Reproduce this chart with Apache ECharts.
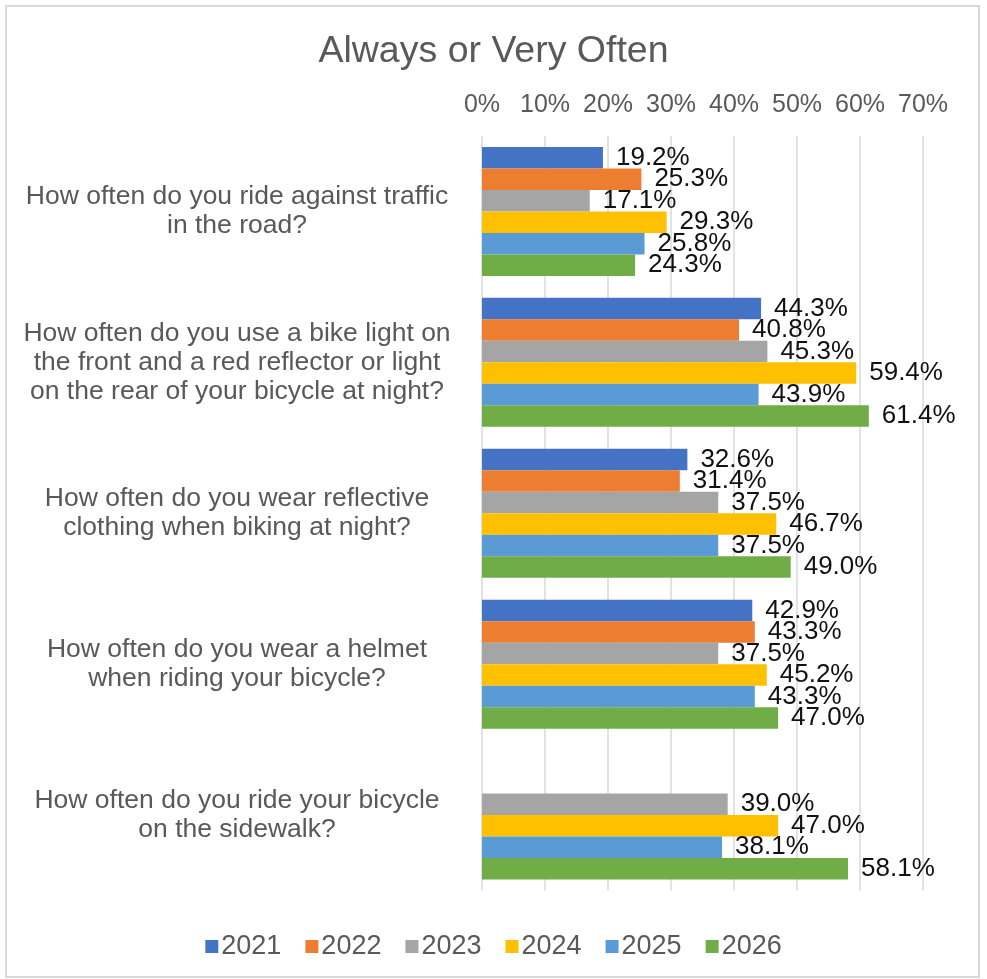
<!DOCTYPE html>
<html>
<head>
<meta charset="utf-8">
<script src="https://cdn.jsdelivr.net/npm/echarts@6/dist/echarts.min.js"></script>
<style>
html,body{margin:0;padding:0;background:#fff;}
#chart{width:987px;height:979px;}
</style>
</head>
<body>
<div id="chart"></div>
<script>
const categories = [
  "How often do you ride against traffic\nin the road?",
  "How often do you use a bike light on\nthe front and a red reflector or light\non the rear of your bicycle at night?",
  "How often do you wear reflective\nclothing when biking at night?",
  "How often do you wear a helmet\nwhen riding your bicycle?",
  "How often do you ride your bicycle\non the sidewalk?"
];
const years = ["2021", "2022", "2023", "2024", "2025", "2026"];
const v2021 = [19.2, 44.3, 32.6, 42.9, null];
const v2022 = [25.3, 40.8, 31.4, 43.3, null];
const v2023 = [17.1, 45.3, 37.5, 37.5, 39.0];
const v2024 = [29.3, 59.4, 46.7, 45.2, 47.0];
const v2025 = [25.8, 43.9, 37.5, 43.3, 38.1];
const v2026 = [24.3, 61.4, 49.0, 47.0, 58.1];
const seriesValues = [v2021, v2022, v2023, v2024, v2025, v2026];
const colors = ["#4472C4", "#ED7D31", "#A5A5A5", "#FFC000", "#5B9BD5", "#70AD47"];
const tickValues = [0, 10, 20, 30, 40, 50, 60, 70];

const FONT = "'Liberation Sans', Arial, sans-serif";
const chart = echarts.init(document.getElementById('chart'), null, {renderer: 'canvas'});

const series = years.map((y, i) => ({
  name: y,
  type: 'bar',
  data: seriesValues[i].map(v => v === null ? '-' : v),
  itemStyle: {color: colors[i]},
  barGap: '0%',
  barCategoryGap: '14.5%',
  label: {
    show: true,
    position: 'right',
    distance: 13,
    fontFamily: FONT,
    fontSize: 26,
    lineHeight: 26,
    color: '#111111',
    formatter: p => (typeof p.value === 'number') ? p.value.toFixed(1) + '%' : ''
  }
}));

chart.setOption({
  animation: false,
  backgroundColor: '#ffffff',
  color: colors,
  title: {
    text: 'Always or Very Often',
    left: 'center',
    top: 28,
    textStyle: {fontFamily: FONT, fontSize: 37.5, fontWeight: 'normal', color: '#595959'}
  },
  legend: {
    data: years,
    left: 'center',
    top: 928,
    icon: 'rect',
    itemWidth: 13,
    itemHeight: 13,
    itemGap: 24,
    textStyle: {fontFamily: FONT, fontSize: 27, color: '#595959', padding: [0, 0, 0, -2]}
  },
  grid: {left: 482, right: 64, top: 136, bottom: 88.5, containLabel: false},
  xAxis: {
    type: 'value',
    position: 'top',
    min: 0,
    max: 70,
    interval: 10,
    axisLine: {show: false},
    axisTick: {show: false},
    splitLine: {show: true, lineStyle: {color: '#d9d9d9', width: 1.5}},
    axisLabel: {
      fontFamily: FONT, fontSize: 25, color: '#595959', margin: 18,
      formatter: v => tickValues.includes(v) ? v + '%' : ''
    }
  },
  yAxis: {
    type: 'category',
    data: categories,
    inverse: true,
    axisLine: {show: false},
    axisTick: {show: false},
    splitLine: {show: false},
    axisLabel: {
      fontFamily: FONT, fontSize: 26.5, color: '#595959',
      align: 'center', margin: 245, lineHeight: 29
    }
  },
  graphic: [{
    type: 'rect',
    shape: {x: 6, y: 6, width: 973, height: 971},
    style: {fill: 'none', stroke: '#d9d9d9', lineWidth: 2},
    silent: true,
    z: 100
  }],
  series: series
});
</script>
</body>
</html>
